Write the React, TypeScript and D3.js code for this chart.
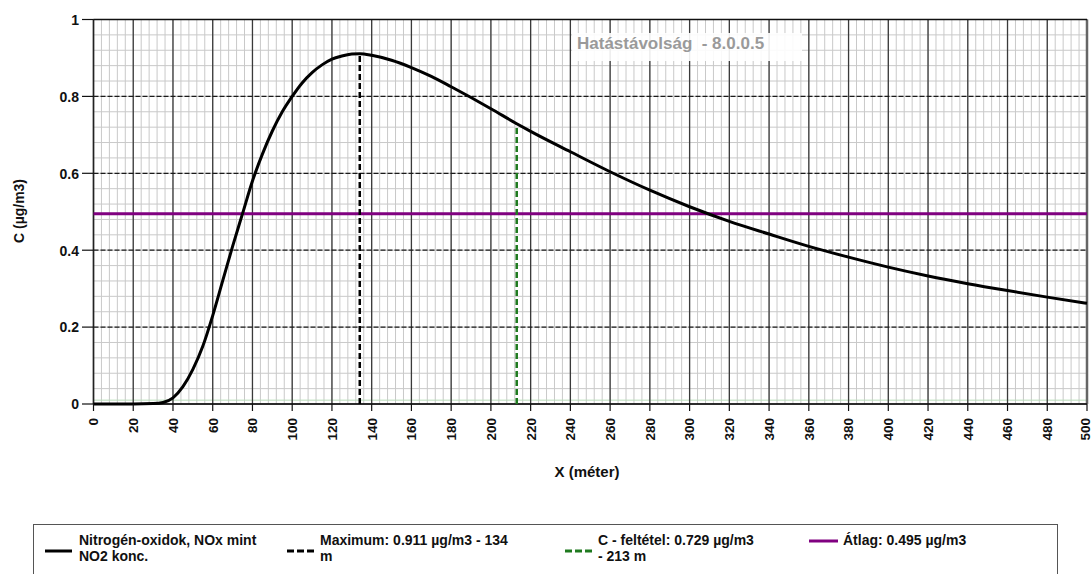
import React from "react";
import * as d3 from "d3";

const xValues = [0, 10, 20, 30, 35, 40, 45, 50, 55, 60, 65, 70, 75, 80, 85, 90, 95, 100, 105, 110, 115, 120, 125, 130, 134, 140, 150, 160, 170, 180, 190, 200, 213, 220, 240, 260, 280, 300, 320, 340, 360, 380, 400, 420, 440, 460, 480, 500];
const cValues = [0, 0, 0, 0.001, 0.004, 0.016, 0.045, 0.09, 0.15, 0.23, 0.32, 0.41, 0.495, 0.58, 0.65, 0.71, 0.76, 0.8, 0.835, 0.862, 0.882, 0.897, 0.905, 0.91, 0.911, 0.907, 0.894, 0.875, 0.852, 0.825, 0.797, 0.768, 0.729, 0.709, 0.656, 0.604, 0.556, 0.513, 0.475, 0.442, 0.41, 0.382, 0.356, 0.333, 0.313, 0.295, 0.278, 0.262];

const xTicks = d3.range(0, 501, 20);
const yTicks = [0, 0.2, 0.4, 0.6, 0.8, 1];
const yTickLabels = ["0", "0.2", "0.4", "0.6", "0.8", "1"];
const maxPoint = { x: 134, c: 0.911 };
const condPoint = { x: 213, c: 0.729 };
const avgValue = 0.495;

const titleText = "Hatástávolság  - 8.0.0.5";
const yAxisTitle = "C (µg/m3)";
const xAxisTitle = "X (méter)";
const legendLabels = [
  ["Nitrogén-oxidok, NOx mint", "NO2 konc."],
  ["Maximum: 0.911 µg/m3 - 134", "m"],
  ["C - feltétel: 0.729 µg/m3", "- 213 m"],
  ["Átlag: 0.495 µg/m3"],
];

const W = 1092;
const H = 574;
const FONT = "Arial, 'Liberation Sans', sans-serif";

export default function App() {
  const x = d3.scaleLinear().domain([0, 500]).range([93.5, 1087]);
  const y = d3.scaleLinear().domain([0, 1]).range([404, 19.5]);
  const minorX = d3.range(0, 501, 4);
  const minorY = d3.range(0, 1.0001, 0.04);
  const data = xValues.map((v, i) => ({ x: v, c: cValues[i] }));
  const line = d3
    .line<{ x: number; c: number }>()
    .x((d) => x(d.x))
    .y((d) => y(d.c))
    .curve(d3.curveMonotoneX);

  const legendY1 = 545;
  const legendY2 = 561;

  return (
    <svg
      width={W}
      height={H}
      style={{ position: "absolute", left: 0, top: 0, background: "#fff" }}
      fontFamily={FONT}
    >
      {/* minor grid */}
      {minorX.map((v) => (
        <line key={"mx" + v} x1={x(v)} x2={x(v)} y1={y(1)} y2={y(0)} stroke="#c9c9c9" strokeWidth={1} />
      ))}
      {minorY.map((v, i) => (
        <line key={"my" + i} x1={x(0)} x2={x(500)} y1={y(v)} y2={y(v)} stroke="#c9c9c9" strokeWidth={1} />
      ))}
      <line x1={x(0)} x2={x(500)} y1={y(0.01)} y2={y(0.01)} stroke="#b8dcb8" strokeWidth={1} />
      {/* major vertical grid */}
      {xTicks.map((v) => (
        <line key={"Mx" + v} x1={x(v)} x2={x(v)} y1={y(1)} y2={y(0)} stroke="#3a3a3a" strokeWidth={1.3} />
      ))}
      {/* major horizontal grid */}
      {yTicks.map((v) => (
        <line
          key={"My" + v}
          x1={x(0)}
          x2={x(500)}
          y1={y(v)}
          y2={y(v)}
          stroke="#1a1a1a"
          strokeWidth={1.2}
          strokeDasharray={v === 0 || v === 1 ? undefined : "5,2"}
        />
      ))}
      {/* frame */}
      <line x1={x(0)} x2={x(0)} y1={y(1)} y2={y(0)} stroke="#222" strokeWidth={1.5} />
      <line x1={x(500)} x2={x(500)} y1={y(1)} y2={y(0)} stroke="#666" strokeWidth={2.5} />
      <line x1={x(0)} x2={x(500)} y1={y(0)} y2={y(0)} stroke="#111" strokeWidth={1.5} />
      <line x1={x(0)} x2={x(500)} y1={y(1)} y2={y(1)} stroke="#111" strokeWidth={1.5} />

      {/* title box */}
      <rect x={572} y={33} width={230} height={28} fill="#fff" fillOpacity={0.9} />
      <text x={577} y={49} fontSize={17} fontWeight="bold" fill="#9a9a9a" style={{ whiteSpace: "pre" }}>
        {titleText}
      </text>

      {/* average line */}
      <line x1={x(0)} x2={x(500)} y1={y(avgValue)} y2={y(avgValue)} stroke="#800080" strokeWidth={3} />

      {/* max and condition lines */}
      <line x1={x(maxPoint.x)} x2={x(maxPoint.x)} y1={y(0)} y2={y(maxPoint.c)} stroke="#000" strokeWidth={2.5} strokeDasharray="6,3" />
      <line x1={x(condPoint.x)} x2={x(condPoint.x)} y1={y(0)} y2={y(condPoint.c)} stroke="#1f7a1f" strokeWidth={2.5} strokeDasharray="6,3" />

      {/* curve */}
      <path d={line(data) || ""} fill="none" stroke="#000" strokeWidth={3} strokeLinejoin="round" />

      {/* y axis ticks */}
      {yTicks.map((v, i) => (
        <g key={"yt" + v}>
          <line x1={82} x2={x(0)} y1={y(v)} y2={y(v)} stroke="#111" strokeWidth={1.2} />
          <text x={79} y={y(v)} dy="0.38em" textAnchor="end" fontSize={14} fontWeight="bold" fill="#111">
            {yTickLabels[i]}
          </text>
        </g>
      ))}
      {/* x axis ticks */}
      {xTicks.map((v) => (
        <g key={"xt" + v}>
          <line x1={x(v)} x2={x(v)} y1={y(0)} y2={411} stroke="#111" strokeWidth={1.2} />
          <text
            transform={`translate(${Math.min(x(v), 1085)},${418}) rotate(-90)`}
            dy="0.36em"
            textAnchor="end"
            fontSize={13.5}
            fontWeight="bold"
            fill="#111"
          >
            {String(v)}
          </text>
        </g>
      ))}

      {/* axis titles */}
      <text x={587} y={477} textAnchor="middle" fontSize={15} fontWeight="bold" fill="#111">
        {xAxisTitle}
      </text>
      <text transform="translate(24,211) rotate(-90)" textAnchor="middle" fontSize={14} fontWeight="bold" fill="#111">
        {yAxisTitle}
      </text>

      {/* legend */}
      <rect x={33.5} y={524.5} width={1024} height={60} fill="#fff" stroke="#555" strokeWidth={1} />
      <line x1={45} x2={72} y1={551} y2={551} stroke="#000" strokeWidth={3} />
      <line x1={287} x2={314} y1={551} y2={551} stroke="#000" strokeWidth={3} strokeDasharray="7,3" />
      <line x1={565} x2={592} y1={551} y2={551} stroke="#1f7a1f" strokeWidth={3} strokeDasharray="7,3" />
      <line x1={809} x2={838} y1={541} y2={541} stroke="#800080" strokeWidth={3} />
      {[79, 320, 598, 843].map((lx, i) => (
        <text key={"lg" + i} x={lx} y={legendY1} fontSize={14} fontWeight="bold" fill="#111">
          <tspan x={lx} y={legendY1}>{legendLabels[i][0]}</tspan>
          {legendLabels[i][1] ? (
            <tspan x={lx} y={legendY2}>{legendLabels[i][1]}</tspan>
          ) : null}
        </text>
      ))}
    </svg>
  );
}
